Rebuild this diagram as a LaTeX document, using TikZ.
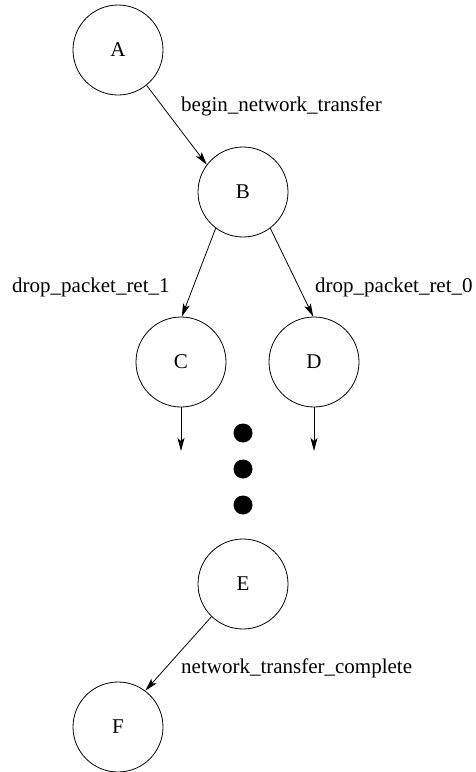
\documentclass[tikz,border=0pt]{standalone}
\usepackage{fontspec}
\setmainfont{Liberation Serif}
\usetikzlibrary{arrows.meta}
\begin{document}
\begin{tikzpicture}[x=1pt,y=-1pt,
  state/.style={circle,draw,line width=0.8pt,minimum size=90pt,inner sep=0pt,font=\fontsize{21}{25}\selectfont},
  lbl/.style={anchor=west,inner sep=0pt,font=\fontsize{21}{25}\selectfont},
  dot/.style={circle,fill=black,minimum size=19pt,inner sep=0pt},
  arr/.style={line width=0.8pt,-{Stealth[length=13pt,width=7pt,inset=3pt]}}]
\useasboundingbox (0,0) rectangle (476,772);
\node[state] (A) at (118,50) {A};
\node[state] (B) at (243,192) {B};
\node[state] (C) at (181,362) {C};
\node[state] (D) at (314,362) {D};
\node[state] (E) at (243,584) {E};
\node[state] (F) at (118,727) {F};
\node[dot] (d1) at (243,433) {};
\node[dot] (d2) at (243,469) {};
\node[dot] (d3) at (243,505) {};
\coordinate (ce) at (181,451);
\coordinate (de) at (314,451);
\draw[arr] (A.309) -- (B.143);
\draw[arr] (B.233) -- (C.89);
\draw[arr] (B.307) -- (D.91);
\draw[arr] (C.south) -- (ce);
\draw[arr] (D.south) -- (de);
\draw[arr] (E.226) -- (F.53);
\node[lbl] (l1) at (181,106) {begin\_network\_transfer};
\node[lbl] (l2) at (12,287) {drop\_packet\_ret\_1};
\node[lbl] (l3) at (315,287) {drop\_packet\_ret\_0};
\node[lbl] (l4) at (181,668) {network\_transfer\_complete};
\end{tikzpicture}
\end{document}
